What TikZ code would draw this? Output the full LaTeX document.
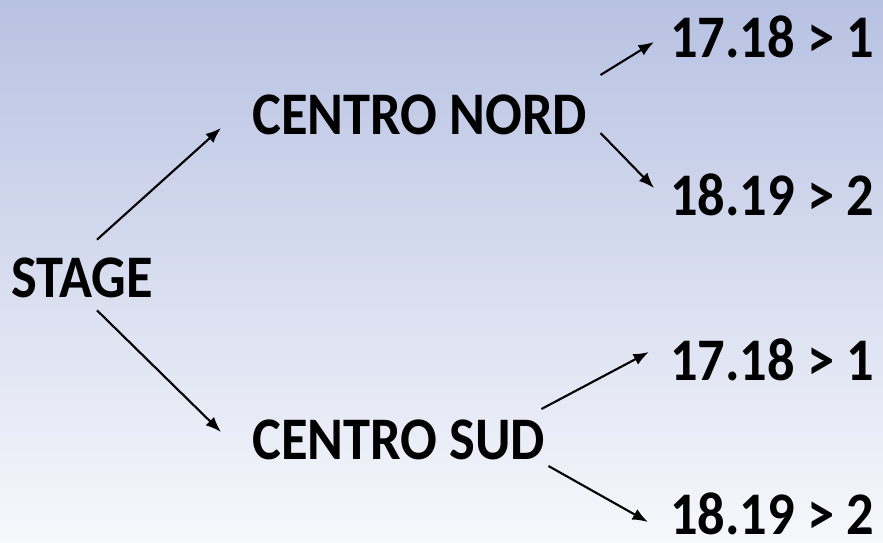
\documentclass[tikz,border=0pt]{standalone}
\usepackage{fontspec}
\setmainfont{Carlito}[FakeStretch=0.9]
\usepackage{tikz}
\usetikzlibrary{arrows.meta}
\definecolor{bgtop}{RGB}{183,193,226}
\definecolor{bgbot}{RGB}{247,248,252}

\begin{document}
\begin{tikzpicture}[
		x=0.025cm, y=-0.025cm,
		lbl/.style={anchor=west, inner sep=0pt, font=\fontsize{43}{50}\selectfont\bfseries},
		conn/.style={line width=1.5pt},
		>={Latex[length=11pt,width=8.5pt]}
		]
		\fill[top color=bgtop, bottom color=bgbot] (0,0) rectangle (883,543);
		\useasboundingbox (0,0) rectangle (883,543);
		
		\node[lbl] (stage) at (11, 278) {STAGE};
		\node[lbl] (nord) at (252, 115) {CENTRO NORD};
		\node[lbl] (sud) at (252, 440) {CENTRO SUD};
		
		\node[lbl] (n1) at (670, 37) {17.18 > 1};
		\node[lbl] (n2) at (670, 195) {18.19 > 2};
		\node[lbl] (s1) at (670, 360) {17.18 > 1};
		\node[lbl] (s2) at (670, 514) {18.19 > 2};
		
		\draw[conn,->] ([shift={(15,-18)}]stage.north) -- ([shift={(-31,13)}]nord.west);
		\draw[conn,->] ([shift={(15,12)}]stage.south) -- ([shift={(-31,-8)}]sud.west);
		
		\draw[conn,->] ([shift={(13,-40)}]nord.east) -- ([shift={(-16,5)}]n1.west);
		\draw[conn,->] ([shift={(13,18)}]nord.east) -- ([shift={(-16,-7)}]n2.west);
		
		\draw[conn,->] ([shift={(-4,-31)}]sud.east) -- ([shift={(-21,-8)}]s1.west);
		\draw[conn,->] ([shift={(3,26)}]sud.east) -- ([shift={(-22,8)}]s2.west);
\end{tikzpicture}
\end{document}
